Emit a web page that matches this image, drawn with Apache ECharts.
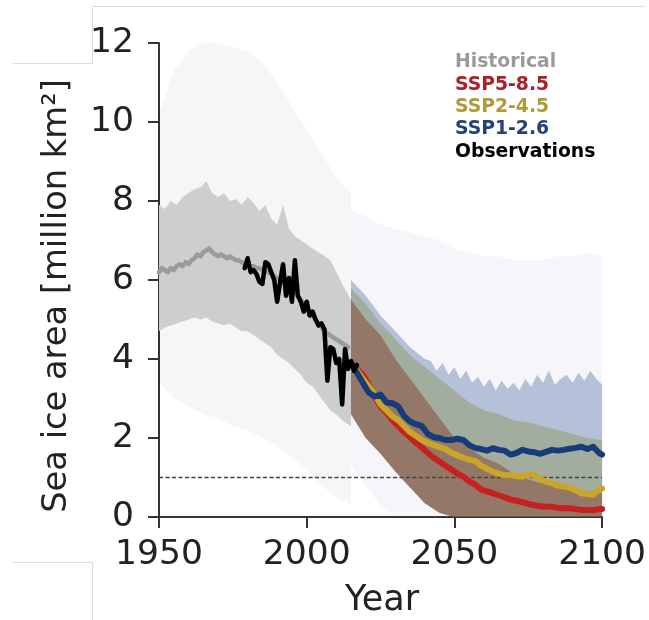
<!DOCTYPE html>
<html><head><meta charset="utf-8">
<script src="https://cdn.jsdelivr.net/npm/echarts/dist/echarts.min.js"></script>
<style>html,body{margin:0;padding:0;background:#fff}#c{width:649px;height:620px}</style>
</head><body><div id="c"></div>
<script>
// ---------------- data ----------------
const xTicks = [1950, 2000, 2050, 2100];
const yTicks = [0, 2, 4, 6, 8, 10, 12];

// Historical multi-model mean, annual 1950-2014
const histStart = 1950;
const histMean = [6.2,6.3,6.25,6.2,6.3,6.25,6.35,6.4,6.35,6.45,
  6.4,6.5,6.55,6.65,6.6,6.7,6.75,6.8,6.7,6.65,
  6.6,6.65,6.6,6.55,6.6,6.55,6.5,6.5,6.45,6.4,
  6.4,6.35,6.35,6.3,6.3,6.25,6.2,6.2,6.15,6.1,
  6.05,6.0,5.95,5.9,5.85,5.8,5.7,5.6,5.5,5.4,
  5.3,5.2,5.1,5.0,4.9,4.8,4.7,4.65,4.6,4.55,
  4.5,4.45,4.4,4.35,4.3];

// Historical range band
const histBandYears = [1950,1952,1954,1956,1958,1960,1962,1964,1966,1968,1970,1972,1974,1976,1978,1980,1982,1984,1986,1988,1990,1992,1994,1996,1998,2000,2002,2004,2006,2008,2010,2012,2015];
const histUpper = [7.9,7.8,8.0,7.9,8.1,8.2,8.3,8.35,8.5,8.2,8.1,8.2,8.0,8.05,7.9,8.1,7.95,7.75,7.9,7.55,7.4,7.9,7.3,7.1,7.0,6.9,6.8,6.7,6.6,6.5,6.2,5.9,5.5];
const histLower = [4.7,4.8,4.85,4.9,4.95,5.0,5.05,5.0,5.05,4.95,4.9,4.85,4.9,4.8,4.7,4.7,4.6,4.5,4.4,4.3,4.1,4.0,3.9,3.75,3.6,3.4,3.3,3.1,2.9,2.7,2.6,2.45,2.3];

// Historical individual-member spread (scatter cloud envelope)
const histCloudYears = [1950,1955,1960,1965,1970,1975,1980,1985,1990,1995,2000,2005,2010,2015];
const histCloudUpper = [10.2,11.3,11.8,12,12,11.9,11.8,11.5,11.0,10.4,9.8,9.2,8.6,8.2];
const histCloudLower = [3.4,3.0,2.8,2.6,2.5,2.3,2.2,2.0,1.8,1.5,1.2,0.8,0.5,0.3];

// Observations, annual 1979-2017
const obsStart = 1979;
const obsValues = [6.3,6.55,6.2,6.25,6.15,5.95,5.9,6.45,6.4,6.2,6.0,
  5.45,5.95,6.4,5.6,6.05,5.45,6.5,5.6,5.45,5.2,
  5.45,5.1,5.2,5.0,4.85,4.9,4.75,3.45,4.3,4.25,
  3.9,4.0,2.85,4.25,3.75,3.95,3.7,3.85];

// Scenario multi-model means
const scenYears = [2015,2017,2019,2021,2023,2025,2027,2029,2031,2033,2035,2037,2039,2041,2043,2045,2047,2049,2051,2053,2055,2057,2059,2061,2063,2065,2067,2069,2071,2073,2075,2077,2079,2081,2083,2085,2087,2089,2091,2093,2095,2097,2099,2100];
const ssp585 = [3.9,3.75,3.6,3.35,3.05,2.8,2.65,2.45,2.3,2.15,2.02,1.88,1.76,1.62,1.5,1.4,1.3,1.2,1.1,1.02,0.9,0.82,0.7,0.65,0.6,0.55,0.5,0.44,0.41,0.38,0.33,0.3,0.27,0.26,0.26,0.23,0.22,0.22,0.2,0.18,0.18,0.17,0.2,0.2];
const ssp245 = [3.9,3.7,3.5,3.3,3.1,2.85,2.7,2.55,2.45,2.3,2.15,2.05,1.95,1.88,1.82,1.77,1.72,1.62,1.56,1.5,1.45,1.42,1.3,1.22,1.15,1.1,1.06,1.06,1.04,1.02,1.08,1.06,0.96,0.9,0.85,0.8,0.77,0.74,0.68,0.6,0.58,0.56,0.7,0.72];
const ssp126 = [3.9,3.65,3.4,3.15,3.05,3.1,2.9,2.88,2.8,2.55,2.42,2.35,2.3,2.1,2.02,2.0,1.95,1.95,1.98,1.95,1.82,1.75,1.72,1.68,1.74,1.7,1.68,1.58,1.62,1.7,1.66,1.64,1.6,1.65,1.7,1.68,1.7,1.73,1.75,1.78,1.72,1.78,1.62,1.58];

// Scenario ranges
const scenBandYears = [2015,2020,2025,2030,2035,2040,2045,2050,2055,2060,2065,2070,2075,2080,2085,2090,2095,2100];
const ssp585Upper = [5.5,5.0,4.6,4.0,3.5,3.0,2.5,2.0,1.75,1.5,1.35,1.1,0.95,0.85,0.75,0.7,0.65,0.6];
const ssp245Upper = [5.8,5.4,4.9,4.5,4.1,3.8,3.5,3.2,2.9,2.7,2.6,2.45,2.4,2.3,2.2,2.1,2.0,1.95];
const scenLower = [2.6,2.0,1.6,1.15,0.75,0.35,0.1,0,0,0,0,0,0,0,0,0,0,0];
const ssp126BandYears = [2015,2020,2025,2030,2035,2040,2042,2044,2046,2048,2050,2052,2054,2056,2058,2060,2062,2064,2066,2068,2070,2072,2074,2076,2078,2080,2082,2084,2086,2088,2090,2092,2094,2096,2098,2100];
const ssp126Upper = [6.0,5.6,5.1,4.7,4.3,4.0,3.95,3.7,3.9,3.6,3.8,3.5,3.7,3.4,3.55,3.3,3.5,3.2,3.45,3.25,3.4,3.2,3.5,3.3,3.6,3.4,3.7,3.35,3.5,3.6,3.4,3.65,3.45,3.7,3.5,3.35];
const ssp126Lower = [2.6,2.0,1.6,1.15,0.75,0.35,0.25,0.15,0.08,0.03,0,0,0,0,0,0,0,0,0,0,0,0,0,0,0,0,0,0,0,0,0,0,0,0,0,0];

// Scenario individual-member cloud envelope
const scenCloudYears = [2015,2020,2025,2030,2035,2040,2045,2050,2055,2060,2065,2070,2075,2080,2085,2090,2095,2100];
const scenCloudUpper = [7.8,7.6,7.4,7.3,7.2,7.1,7.0,6.8,6.7,6.6,6.6,6.5,6.5,6.5,6.6,6.6,6.7,6.6];
const scenCloudLower = [1.3,0.8,0.3,0,0,0,0,0,0,0,0,0,0,0,0,0,0,0];

// Dashed threshold line
const thresholdYears = [1950, 2100];
const thresholdValue = 1;

const legendNames = ['Historical', 'SSP5-8.5', 'SSP2-4.5', 'SSP1-2.6', 'Observations'];
const legendColors = ['#9a9a9a', '#a8222a', '#b09a3a', '#24427a', '#000000'];

// ---------------- chart ----------------
const FONT = 'DejaVu Sans';
const BIG = 34.5;
function pairs(xs, ys) { return xs.map((x, i) => [x, ys[i]]); }
function seqPairs(start, ys) { return ys.map((v, i) => [start + i, v]); }
function band(name, xs, lo, hi, color, z) {
  return {
    type: 'custom', name: name, z: z, silent: true, clip: true,
    data: xs.map((x, i) => [x, lo[i], hi[i]]),
    encode: { x: 0, y: [1, 2] },
    renderItem: function (params, api) {
      if (params.dataIndex !== 0) return;
      const pts = [];
      for (let i = 0; i < xs.length; i++) pts.push(api.coord([xs[i], hi[i]]));
      for (let i = xs.length - 1; i >= 0; i--) pts.push(api.coord([xs[i], lo[i]]));
      return { type: 'polygon', shape: { points: pts }, style: { fill: color } };
    }
  };
}
function line(name, data, color, width, z) {
  return {
    type: 'line', name: name, data: data, z: z, showSymbol: false, symbol: 'none',
    silent: true, lineStyle: { color: color, width: width, join: 'round', cap: 'round' }
  };
}

const chart = echarts.init(document.getElementById('c'), null, { renderer: 'canvas' });
const frame = { stroke: '#dcdcdc', lineWidth: 1 };
chart.setOption({
  animation: false,
  backgroundColor: '#ffffff',
  grid: { left: 159, right: 44, top: 43, bottom: 103 },
  xAxis: {
    type: 'value', min: xTicks[0], max: xTicks[xTicks.length - 1], interval: 50,
    axisLine: { lineStyle: { color: '#333', width: 2 } },
    axisTick: { length: 11, lineStyle: { color: '#333', width: 2 } },
    splitLine: { show: false },
    axisLabel: { fontFamily: FONT, fontSize: BIG, color: '#222', margin: 21, formatter: v => String(v) }
  },
  yAxis: {
    type: 'value', min: yTicks[0], max: yTicks[yTicks.length - 1], interval: 2,
    axisLine: { show: true, lineStyle: { color: '#333', width: 2 } },
    axisTick: { show: true, length: 11, lineStyle: { color: '#333', width: 2 } },
    splitLine: { show: false },
    axisLabel: { fontFamily: FONT, fontSize: BIG, color: '#222', margin: 25 }
  },
  legend: {
    orient: 'vertical', left: 445, top: 48, icon: 'none', itemWidth: 0, itemHeight: 19, itemGap: 3.3,
    selectedMode: false,
    textStyle: { fontFamily: FONT, fontWeight: 'bold', fontSize: 18.8 },
    data: legendNames.map((n, i) => ({ name: n, textStyle: { color: legendColors[i] } }))
  },
  graphic: [
    { type: 'text', x: 57, y: 296, rotation: Math.PI / 2, silent: true,
      style: { text: 'Sea ice area [million km²]', fontFamily: FONT, fontSize: 33.7, fill: '#222', align: 'center', verticalAlign: 'middle' } },
    { type: 'text', x: 382, y: 601, silent: true,
      style: { text: 'Year', fontFamily: FONT, fontSize: 35, fill: '#222', align: 'center', verticalAlign: 'middle' } },
    { type: 'line', silent: true, shape: { x1: 93, y1: 6.5, x2: 645, y2: 6.5 }, style: frame },
    { type: 'line', silent: true, shape: { x1: 92.5, y1: 6, x2: 92.5, y2: 63.5 }, style: frame },
    { type: 'line', silent: true, shape: { x1: 13, y1: 63.5, x2: 93, y2: 63.5 }, style: frame },
    { type: 'line', silent: true, shape: { x1: 13, y1: 562.5, x2: 93, y2: 562.5 }, style: frame },
    { type: 'line', silent: true, shape: { x1: 92.5, y1: 562, x2: 92.5, y2: 620 }, style: frame }
  ],
  series: [
    band('Historical', histCloudYears, histCloudLower, histCloudUpper, 'rgba(0,0,0,0.035)', 1),
    band('SSP1-2.6', scenCloudYears, scenCloudLower, scenCloudUpper, 'rgba(140,140,185,0.08)', 1),
    band('Historical', histBandYears, histLower, histUpper, 'rgb(206,206,206)', 2),
    band('SSP1-2.6', ssp126BandYears, ssp126Lower, ssp126Upper, 'rgba(90,120,170,0.42)', 2),
    band('SSP2-4.5', scenBandYears, scenLower, ssp245Upper, 'rgba(142,148,86,0.44)', 2),
    band('SSP5-8.5', scenBandYears, scenLower, ssp585Upper, 'rgba(131,50,35,0.44)', 2),
    {
      type: 'line', name: 'threshold', z: 3, silent: true, showSymbol: false, symbol: 'none',
      data: thresholdYears.map(x => [x, thresholdValue]),
      lineStyle: { color: '#444', width: 1.5, type: [4, 2.5] }
    },
    line('Historical', seqPairs(histStart, histMean), '#9b9b9b', 4.5, 4),
    line('SSP5-8.5', pairs(scenYears, ssp585), '#c52121', 6, 5),
    line('SSP2-4.5', pairs(scenYears, ssp245), '#c9a62a', 6, 6),
    line('SSP1-2.6', pairs(scenYears, ssp126), '#173c7a', 6, 7),
    line('Observations', seqPairs(obsStart, obsValues), '#000000', 4.5, 8)
  ]
});
</script></body></html>
